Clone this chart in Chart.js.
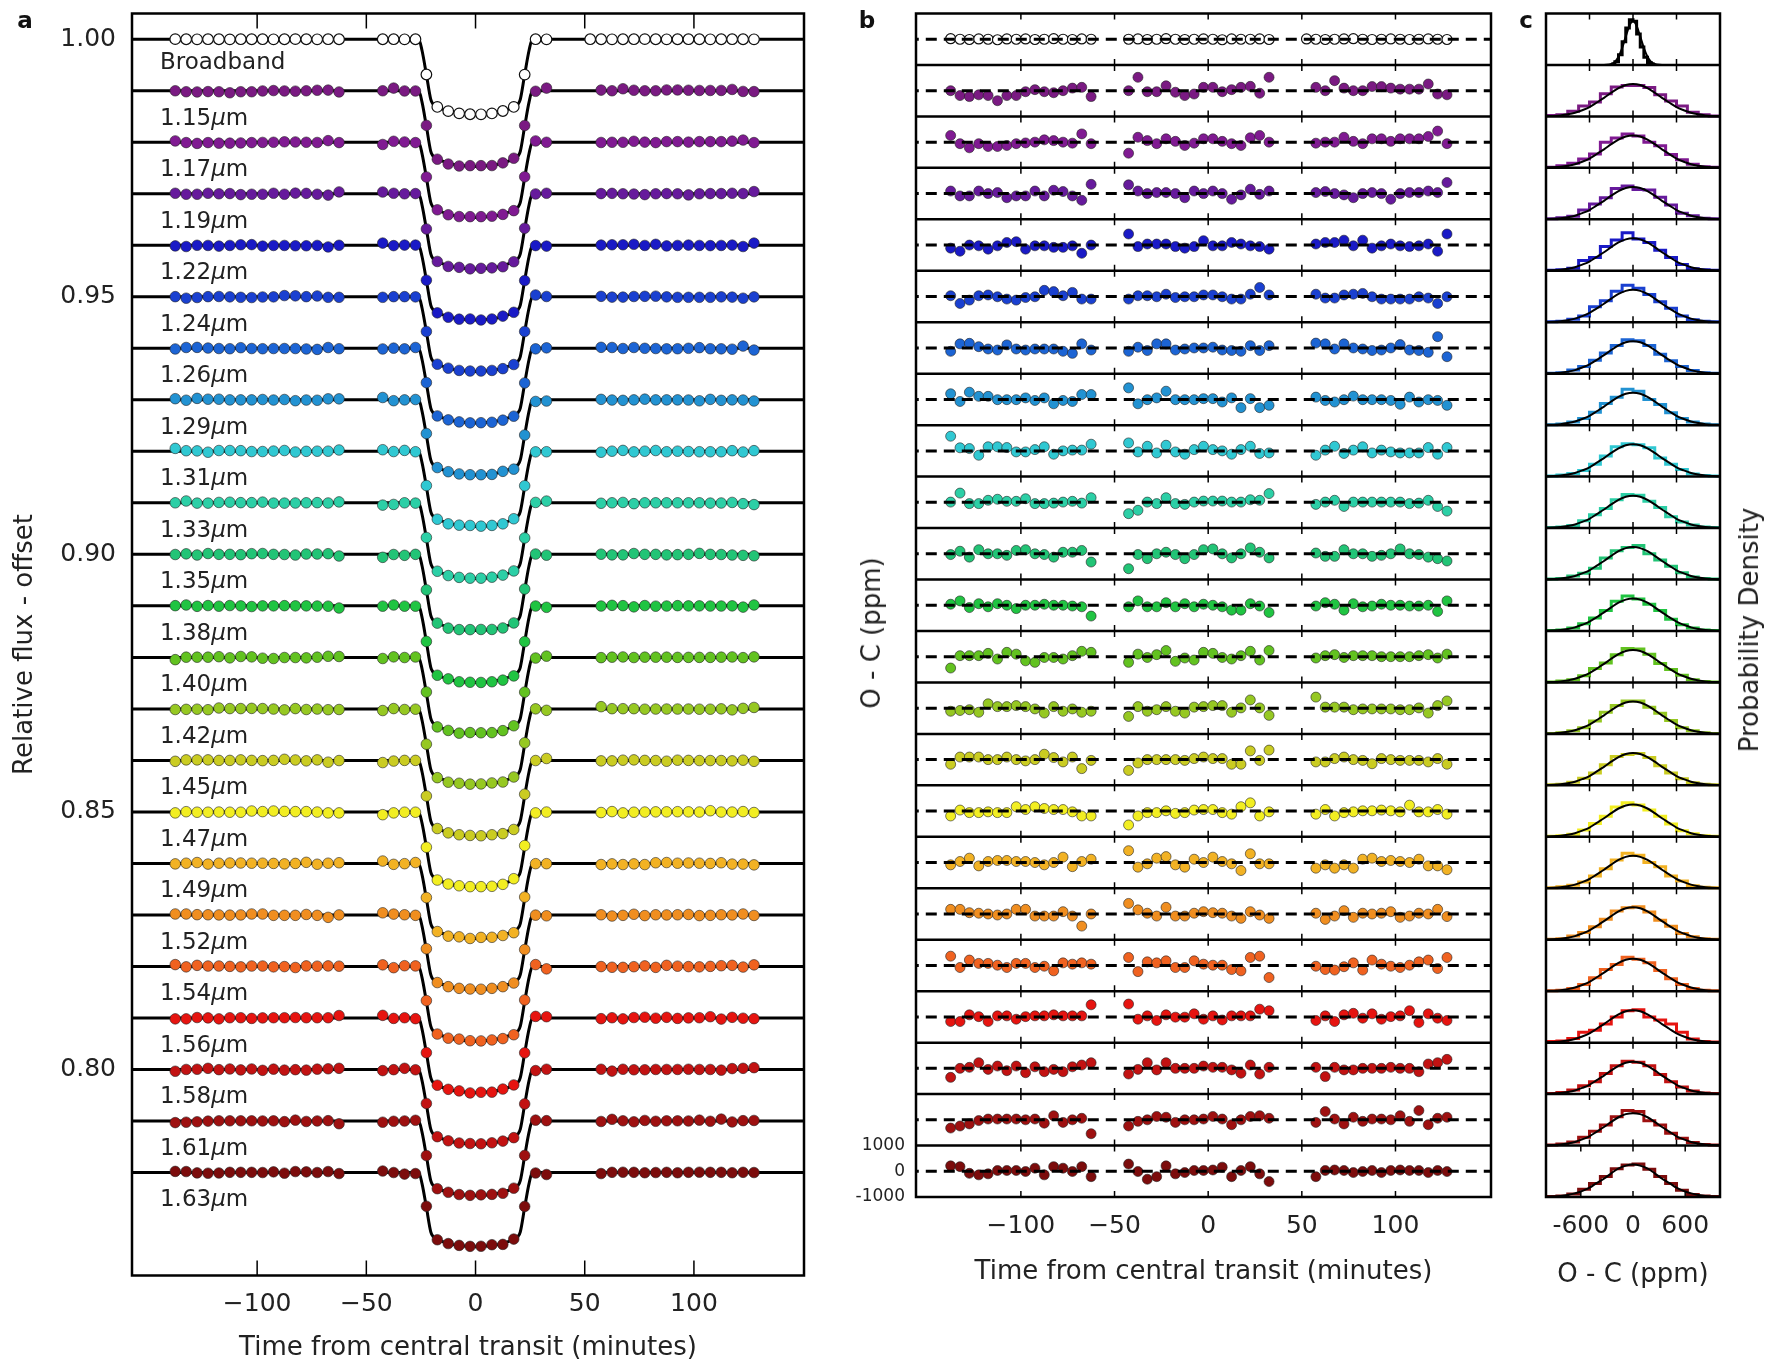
<!DOCTYPE html>
<html>
<head>
<meta charset="utf-8">
<title>Spectroscopic transit light curves</title>
<script src="https://cdn.jsdelivr.net/npm/chart.js@4.4.1/dist/chart.umd.min.js"></script>
<style>
  html, body { margin: 0; padding: 0; background: #fff; }
  body { position: relative; width: 1766px; height: 1365px; overflow: hidden; font-family: "DejaVu Sans", sans-serif; color: #222; }
  canvas { position: absolute; top: 0; }
  .txt { position: absolute; white-space: nowrap; transform: translate(-50%, -50%); }
  .panel { font-weight: bold; font-size: 23px; color: #111; }
  .vert { transform: translate(-50%, -50%) rotate(-90deg); font-size: 26px; }
</style>
</head>
<body>
<canvas id="chartA" width="820" height="1365" style="left:0"></canvas>
<canvas id="chartB" width="680" height="1300" style="left:830px"></canvas>
<canvas id="chartC" width="236" height="1300" style="left:1530px"></canvas>
<div class="txt panel" style="left:25px;top:20px">a</div>
<div class="txt panel" style="left:867px;top:20px">b</div>
<div class="txt panel" style="left:1526px;top:20px">c</div>
<div class="txt vert" style="left:871px;top:633px">O - C (ppm)</div>
<div class="txt vert" style="left:1749px;top:630px">Probability Density</div>
<script>
Chart.defaults.font.family = '"DejaVu Sans", sans-serif';
Chart.defaults.color = '#222';
Chart.defaults.animation = false;

// AXIS TICKS
const timeTicks = [-100, -50, 0, 50, 100];
const fluxTicks = [0.80, 0.85, 0.90, 0.95, 1.00];
const ocLabelTicks = [-1000, 0, 1000];
const histTicks = [-600, 0, 600];

// ROWS (top to bottom)
const rowNames = ['Broadband', '1.15', '1.17', '1.19', '1.22', '1.24', '1.26', '1.29', '1.31', '1.33', '1.35',
  '1.38', '1.40', '1.42', '1.45', '1.47', '1.49', '1.52', '1.54', '1.56', '1.58', '1.61', '1.63'];
const rowOffsets = [1.00, 0.99, 0.98, 0.97, 0.96, 0.95, 0.94, 0.93, 0.92, 0.91, 0.90,
  0.89, 0.88, 0.87, 0.86, 0.85, 0.84, 0.83, 0.82, 0.81, 0.80, 0.79, 0.78];
const rowColors = ['#ffffff', '#7a1a82', '#801a92', '#661a9c', '#1a1ac6', '#1a40d0', '#1c64d4', '#2292d2',
  '#30c8d2', '#2ccfa6', '#22c476', '#20c442', '#62c220', '#96c822', '#cacc22', '#f2ee22', '#f2b224',
  '#f08e20', '#f06220', '#e61410', '#c21212', '#9e1010', '#7c0c0c'];
const depths = [0.0146, 0.0147, 0.0146, 0.0146, 0.0145, 0.0145, 0.0145, 0.0146, 0.0146, 0.0147, 0.0148,
  0.0149, 0.0148, 0.0147, 0.0147, 0.0146, 0.0146, 0.0145, 0.0145, 0.0145, 0.0145, 0.0145, 0.0144];

// EXPOSURE TIMES (minutes from central transit)
const timesBroadband = [-137.5, -132.5, -127.5, -122.5, -117.5, -112.5, -107.5, -102.5, -97.5, -92.5, -87.5, -82.5, -77.5, -72.5, -67.5, -62.5,
  -42.5, -37.5, -32.5, -27.5, -22.5, -17.5, -12.5, -7.5, -2.5, 2.5, 7.5, 12.5, 17.5, 22.5, 27.5, 32.5,
  52.5, 57.5, 62.5, 67.5, 72.5, 77.5, 82.5, 87.5, 92.5, 97.5, 102.5, 107.5, 112.5, 117.5, 122.5, 127.5];
const times = [-137.5, -132.5, -127.5, -122.5, -117.5, -112.5, -107.5, -102.5, -97.5, -92.5, -87.5, -82.5, -77.5, -72.5, -67.5, -62.5,
  -42.5, -37.5, -32.5, -27.5, -22.5, -17.5, -12.5, -7.5, -2.5, 2.5, 7.5, 12.5, 17.5, 22.5, 27.5, 32.5,
  57.5, 62.5, 67.5, 72.5, 77.5, 82.5, 87.5, 92.5, 97.5, 102.5, 107.5, 112.5, 117.5, 122.5, 127.5];

// TRANSIT MODEL SHAPE (fraction of full depth)
const modelT = [-200, -26, -24.5, -22.5, -20.5, -19.5, -17.5, -12.5, -7.5, -2.5, 0, 2.5, 7.5, 12.5, 17.5, 19.5, 20.5, 22.5, 24.5, 26, 200];
const modelShape = [0, 0, 0.15, 0.47, 0.8, 0.86, 0.9, 0.955, 0.985, 0.998, 1, 0.998, 0.985, 0.955, 0.9, 0.86, 0.8, 0.47, 0.15, 0, 0];

// RESIDUALS O - C (ppm)
const rBB = [20, 0, -10, 10, 0, -20, 10, 0, 10, -10, 0, 20, 0, -10, 10, 0, 0, 10, -10, 0, 20, 0, -10, 0, 10, 0, -20, 10, 0, 0, 10, -10, 10, 0, -10, 0, 10, 20, 0, -10, 0, 10, 0, -10, 0, 10, 0, -10];
const r115 = [0, -190, -230, -160, -190, -390, -190, -190, -40, 40, -40, -80, 0, 100, 130, -230, 0, 520, -40, -40, 190, -60, -190, -130, 130, 130, -40, 40, 130, 170, -100, 520, 130, 0, 390, 100, 0, 0, 160, 160, 100, 60, 60, 60, 260, -130, -160];
const r117 = [260, -60, -220, -60, -170, -170, -130, -60, -30, 0, 90, 60, 0, -40, 320, -60, -430, 190, 60, -60, 130, 30, -130, -40, 130, 130, 30, -60, -130, 170, 260, 0, -40, 0, 0, 190, 30, -60, 130, 130, 30, 130, 130, 130, 220, 430, -60];
const r119 = [100, -90, -90, 100, 0, 40, -160, -90, -90, 100, -90, 130, 80, -90, -260, 360, 340, 100, 0, 40, 40, 0, -160, 100, 0, 100, 0, -220, -50, 170, -30, 100, 40, 80, 0, -50, -160, 0, 40, 0, -220, 0, 40, 40, 100, 40, 430];
const r122 = [-120, -240, 0, -30, -160, -30, 100, 130, -160, -30, -30, -90, -90, -30, -320, 0, 430, -60, 40, 40, 40, -60, -120, -60, 170, -30, -30, 100, 40, -30, -60, -160, 40, 100, 100, 190, -30, 190, -120, -30, 40, -30, -60, -30, 40, -240, 430];
const r124 = [30, -270, -140, 30, 60, -10, -100, -140, -40, -10, 240, 190, 30, 160, -100, -100, -100, 30, 30, -10, 90, -40, -10, -10, 60, 60, -10, -100, -100, 90, 350, 60, 90, -60, -60, 60, 90, 120, -10, -100, -100, -100, -100, -10, -60, -270, -10];
const r126 = [-130, 160, 180, 50, -40, -80, 120, -40, -80, -40, -40, -40, -130, -210, 160, -80, -130, 30, -100, 160, 160, -80, -40, 0, 0, 30, -80, -100, -130, 90, -100, 90, 190, 160, -40, 160, 0, -40, -100, -80, 0, 130, -80, -100, -170, 440, -340];
const r129 = [220, -80, 280, 120, 120, -10, -10, -10, 60, -40, 60, -170, -40, -80, 190, 190, 450, -170, -10, 60, 320, -10, -10, -10, 30, 30, -100, 60, -320, 30, -320, -230, 90, -40, -100, -10, 130, -10, -10, -10, -40, -190, 90, -100, -10, -40, -230];
const r131 = [570, 120, 90, -170, 160, 160, 130, -40, -40, 50, 160, -130, 0, 30, 30, 260, 310, -40, 180, -80, 220, -40, -130, 50, 180, 50, 0, -130, 50, 180, -100, -80, -170, 30, 180, -100, 30, 160, -80, 30, -40, -80, -80, -80, 130, -130, 130];
const r133 = [10, 360, -50, -50, 80, 120, 40, 40, 140, -50, -50, -30, 10, 40, -30, 180, -440, -310, 10, -50, 180, -50, -80, 10, 50, 50, 50, 10, 10, 100, 80, 340, -80, 10, 80, -160, 10, 10, 10, 10, 10, 10, -50, -30, 80, -160, -340];
const r135 = [-30, 100, -130, 160, 0, 0, -60, 130, 160, 0, -30, -130, 60, 60, 130, -320, -580, -30, -190, 0, 60, -30, -190, -30, 160, 190, 0, -160, 0, 230, 60, -160, 30, -100, -100, 160, 0, 0, -100, -60, 0, 190, 0, -30, -130, -190, -280];
const r138 = [40, 170, -90, 60, -60, 60, 0, -130, 0, 0, 40, 0, 0, -30, -60, -420, -60, 170, -60, -60, 100, -60, 60, -60, 40, 0, -60, -190, -190, 60, -30, -280, -30, 100, 40, -190, 60, -60, -30, 40, 0, 0, -30, -30, 0, -240, 170];
const r140 = [-440, 40, 40, 40, 130, -90, 170, 100, -160, -220, -30, -30, -90, 40, 210, 170, -220, 100, -30, 80, 240, -180, -50, -130, 170, 130, -30, -90, 40, 210, -130, 240, -50, 40, 80, -30, 40, 40, 40, 0, 0, 0, 0, 40, 80, -50, 100];
const r142 = [-120, -90, -60, -160, 170, 60, 60, 100, 60, -30, -190, 60, -120, -30, -160, -120, -320, 60, -120, -60, 60, -120, -190, 40, 60, 100, 100, -160, 10, 320, 10, -280, 430, 40, 40, 40, -60, -30, -30, -30, -30, -60, -60, 10, -190, 100, 280];
const r145 = [-180, 100, 100, 100, 0, 0, 100, 0, -50, 0, 210, 80, -90, 100, -350, -30, -420, -130, 0, 0, 0, 0, -30, 40, 100, 40, 40, -180, -180, 340, -30, 370, -90, -90, 40, 100, 0, -30, -160, 40, 0, -30, -30, -30, -90, 40, -180];
const r147 = [-190, 40, -60, -60, -30, -60, -60, 170, 60, 170, 100, 60, 60, -30, -190, -190, -540, -190, -60, -60, 10, -90, -60, 40, 60, 60, -60, -120, 170, 320, -190, -30, -120, 60, -190, -60, -30, 10, 10, 40, 10, -30, 230, -30, -30, 60, -120];
const r149 = [-90, 40, 170, -130, 40, 80, 80, 40, 40, 0, -90, 0, 210, -160, 40, 130, 460, -180, -50, 170, 230, -90, -180, 130, 0, 210, 40, -50, -310, 340, -50, -50, -220, -90, -220, -90, -220, 130, 170, 40, 80, 40, 0, 130, -130, -130, -280];
const r152 = [180, 180, 50, 30, 0, -40, 0, 180, 180, -80, -80, -80, 90, -80, -470, 0, 410, 160, 30, -80, 260, -80, -80, 30, 90, 50, 30, -80, -170, 90, -40, -170, 30, -210, -80, 130, -130, 30, 0, 30, 90, -130, -80, 30, 0, 180, -100];
const r154 = [360, -80, 210, 80, 80, 10, -80, 80, 80, -80, -30, -210, 100, 50, 100, 50, 310, -240, 140, 100, 180, -80, -80, 180, 50, 10, 10, -160, -210, 310, 360, -470, -30, -160, -180, -50, 100, -180, 210, 50, -30, -80, 10, 140, 210, -120, 310];
const r156 = [-180, -180, 80, 10, -180, 40, 40, -90, 10, 40, 40, 80, 40, 40, 40, 470, 500, -90, 40, -140, 80, -10, -10, 120, -90, 40, -120, 40, 40, 40, 300, 240, -140, 40, -180, 80, 140, -50, 120, -90, 10, 40, 240, -220, 120, -50, -140];
const r158 = [-350, 0, 40, 220, -40, 90, -90, 90, -170, 60, -130, -40, -130, 60, 130, 220, -220, -40, 220, -60, 220, 0, 0, 0, 90, 40, 40, -60, -190, 130, -220, 40, 40, -320, 40, -60, -60, 0, 0, 0, 40, 0, 0, -130, 170, 220, 350];
const r161 = [-320, -240, -160, -30, 30, 30, 30, 30, 0, 30, -130, 160, -100, 0, 60, -540, -240, -60, 0, 130, 100, -100, 0, 0, 30, 130, 30, -190, 0, 130, 160, 60, -100, 320, 30, -160, 100, -60, 30, 30, 0, 160, -60, 360, -190, 60, 100];
const r163 = [210, 180, -80, -140, -100, 30, 30, 30, -10, 120, -140, 180, 120, -10, 180, -210, 280, -10, -310, -210, 210, -100, -50, 30, 30, 50, 160, -210, 30, 180, -100, -400, -210, 30, 50, 30, -50, -10, 30, -50, 30, 50, 30, 30, -50, 30, -10];
const resid = [rBB, r115, r117, r119, r122, r124, r126, r129, r131, r133, r135, r138, r140, r142, r145, r147, r149, r152, r154, r156, r158, r161, r163];

// RESIDUAL HISTOGRAMS (height as fraction of a row)
const bbHistEdges = [-300, -250, -200, -150, -100, -50, 0, 50, 100, 150, 200, 250, 300];
const bbHist = [0.02, 0.06, 0.2, 0.45, 0.72, 0.88, 0.85, 0.6, 0.35, 0.15, 0.05, 0.02];
const bbFitX = [-400, -300, -250, -200, -150, -100, -50, 0, 50, 100, 150, 200, 250, 300, 400];
const bbFitY = [0, 0.02, 0.06, 0.16, 0.33, 0.55, 0.76, 0.86, 0.76, 0.55, 0.33, 0.16, 0.06, 0.02, 0];
const histEdges = [-1200, -1050, -900, -750, -600, -450, -300, -150, 0, 150, 300, 450, 600, 750, 900, 1050, 1200];
const histEdgesLast = [-1000, -875, -750, -625, -500, -375, -250, -125, 0, 125, 250, 375, 500, 625, 750, 875, 1000];
const fitX = [-1200, -1100, -1000, -900, -800, -700, -600, -500, -400, -300, -200, -100, 0, 100, 200, 300, 400, 500, 600, 700, 800, 900, 1000, 1100, 1200];
const fitXLast = [-1000, -920, -830, -750, -670, -580, -500, -420, -330, -250, -170, -80, 0, 80, 170, 250, 330, 420, 500, 580, 670, 750, 830, 920, 1000];
const fitY = [0.005, 0.01, 0.02, 0.04, 0.07, 0.12, 0.18, 0.27, 0.36, 0.46, 0.55, 0.61, 0.63, 0.61, 0.55, 0.46, 0.36, 0.27, 0.18, 0.12, 0.07, 0.04, 0.02, 0.01, 0.005];
const h115 = [0.02, 0.03, 0.1, 0.2, 0.28, 0.44, 0.57, 0.6, 0.6, 0.56, 0.42, 0.3, 0.2, 0.08, 0.03, 0.01];
const h117 = [0.01, 0.04, 0.09, 0.17, 0.27, 0.5, 0.58, 0.66, 0.62, 0.5, 0.43, 0.26, 0.16, 0.07, 0.02, 0.01];
const h119 = [0.01, 0.03, 0.06, 0.18, 0.3, 0.42, 0.6, 0.65, 0.58, 0.57, 0.43, 0.28, 0.12, 0.07, 0.02, 0.01];
const h122 = [0.01, 0.02, 0.05, 0.2, 0.26, 0.47, 0.6, 0.74, 0.62, 0.55, 0.4, 0.26, 0.12, 0.04, 0.02, 0.01];
const h124 = [0.01, 0.02, 0.06, 0.12, 0.3, 0.42, 0.6, 0.72, 0.66, 0.54, 0.4, 0.27, 0.12, 0.05, 0.02, 0.01];
const h126 = [0.01, 0.02, 0.07, 0.14, 0.26, 0.4, 0.55, 0.66, 0.64, 0.55, 0.38, 0.25, 0.14, 0.06, 0.02, 0.01];
const h129 = [0.01, 0.02, 0.06, 0.13, 0.25, 0.42, 0.54, 0.7, 0.66, 0.5, 0.4, 0.24, 0.13, 0.06, 0.02, 0.01];
const h131 = [0.01, 0.03, 0.06, 0.12, 0.24, 0.4, 0.58, 0.64, 0.62, 0.56, 0.36, 0.24, 0.14, 0.05, 0.02, 0.01];
const h133 = [0.01, 0.02, 0.05, 0.14, 0.26, 0.38, 0.55, 0.65, 0.64, 0.52, 0.4, 0.22, 0.12, 0.06, 0.02, 0.01];
const h135 = [0.01, 0.02, 0.07, 0.12, 0.22, 0.42, 0.56, 0.62, 0.66, 0.5, 0.38, 0.26, 0.13, 0.05, 0.02, 0.01];
const h138 = [0.01, 0.02, 0.06, 0.14, 0.25, 0.4, 0.58, 0.68, 0.62, 0.52, 0.4, 0.23, 0.12, 0.06, 0.02, 0.01];
const h140 = [0.01, 0.03, 0.05, 0.13, 0.27, 0.38, 0.54, 0.66, 0.65, 0.55, 0.37, 0.25, 0.14, 0.05, 0.02, 0.01];
const h142 = [0.01, 0.02, 0.06, 0.12, 0.25, 0.42, 0.55, 0.64, 0.64, 0.52, 0.4, 0.26, 0.12, 0.06, 0.02, 0.01];
const h145 = [0.01, 0.02, 0.06, 0.14, 0.24, 0.4, 0.56, 0.6, 0.62, 0.54, 0.38, 0.24, 0.13, 0.05, 0.02, 0.01];
const h147 = [0.01, 0.02, 0.05, 0.13, 0.26, 0.4, 0.58, 0.66, 0.62, 0.52, 0.4, 0.25, 0.12, 0.06, 0.02, 0.01];
const h149 = [0.01, 0.03, 0.06, 0.12, 0.24, 0.38, 0.55, 0.68, 0.64, 0.5, 0.42, 0.24, 0.14, 0.05, 0.02, 0.01];
const h152 = [0.01, 0.02, 0.07, 0.14, 0.25, 0.4, 0.56, 0.62, 0.64, 0.54, 0.38, 0.26, 0.12, 0.06, 0.02, 0.01];
const h154 = [0.01, 0.02, 0.05, 0.13, 0.26, 0.42, 0.52, 0.66, 0.62, 0.55, 0.4, 0.24, 0.13, 0.05, 0.02, 0.01];
const h156 = [0.02, 0.03, 0.08, 0.2, 0.24, 0.36, 0.5, 0.62, 0.64, 0.5, 0.44, 0.36, 0.2, 0.07, 0.02, 0.01];
const h158 = [0.01, 0.03, 0.08, 0.16, 0.24, 0.4, 0.55, 0.64, 0.62, 0.55, 0.38, 0.24, 0.14, 0.06, 0.02, 0.01];
const h161 = [0.01, 0.03, 0.07, 0.16, 0.28, 0.4, 0.56, 0.68, 0.66, 0.48, 0.4, 0.24, 0.14, 0.06, 0.02, 0.01];
const h163 = [0.01, 0.02, 0.06, 0.15, 0.26, 0.4, 0.55, 0.62, 0.64, 0.54, 0.4, 0.26, 0.13, 0.05, 0.02, 0.01];
const hists = [bbHist, h115, h117, h119, h122, h124, h126, h129, h131, h133, h135, h138, h140, h142, h145, h147, h149, h152, h154, h156, h158, h161, h163];

const nRows = rowNames.length;
const rowPpm = 2000; // height of one residual row

function shapeAt(t) {
  const k = modelT.indexOf(t);
  return k === -1 ? 0 : modelShape[k];
}
function minusSign(v) {
  return v < 0 ? '\u2212' + Math.abs(v) : String(v);
}
// keep the plot areas where they are: no extra room for edge tick labels
function noLabelPadding(s) {
  s.paddingTop = 0; s.paddingBottom = 0; s.paddingLeft = 0; s.paddingRight = 0;
}

// PANEL A: LIGHT CURVES
const datasetsA = [];
rowNames.forEach((name, i) => {
  const tt = i === 0 ? timesBroadband : times;
  datasetsA.push({
    type: 'line',
    data: modelT.map((t, k) => ({ x: t, y: rowOffsets[i] - depths[i] * modelShape[k] })),
    borderColor: '#000', borderWidth: 3, pointRadius: 0, cubicInterpolationMode: 'monotone', order: 2
  });
  datasetsA.push({
    type: 'scatter',
    data: tt.map((t, k) => ({ x: t, y: rowOffsets[i] - depths[i] * shapeAt(t) + resid[i][k] * 1e-6 })),
    pointRadius: 5.3,
    pointBackgroundColor: rowColors[i],
    pointBorderColor: i === 0 ? '#111' : 'rgba(35,35,35,0.75)',
    pointBorderWidth: i === 0 ? 1.2 : 0.8,
    order: 1
  });
});

const frameA = {
  id: 'frameA',
  afterDatasetsDraw(chart) {
    const { ctx, scales: { x, y } } = chart;
    ctx.save();
    ctx.fillStyle = '#222';
    ctx.textBaseline = 'alphabetic';
    rowNames.forEach((name, i) => {
      let px = x.getPixelForValue(-144.5);
      if (i === 0) {
        ctx.font = '23px "DejaVu Sans"';
        ctx.fillText(name, px, y.getPixelForValue(rowOffsets[i] - 0.0058));
        return;
      }
      const py = y.getPixelForValue(rowOffsets[i] - 0.0066);
      ctx.font = '23px "DejaVu Sans"';
      ctx.fillText(name, px, py);
      px += ctx.measureText(name).width;
      ctx.font = 'italic 23px "DejaVu Sans"';
      ctx.fillText('\u03bc', px, py);
      px += ctx.measureText('\u03bc').width;
      ctx.font = '23px "DejaVu Sans"';
      ctx.fillText('m', px, py);
    });
    ctx.restore();
  },
  afterDraw(chart) {
    const { ctx, chartArea: a, scales: { x, y } } = chart;
    ctx.save();
    ctx.strokeStyle = '#000';
    ctx.lineWidth = 1.5;
    ctx.beginPath();
    timeTicks.forEach(v => {
      const px = x.getPixelForValue(v);
      ctx.moveTo(px, a.top); ctx.lineTo(px, a.top + 15);
      ctx.moveTo(px, a.bottom); ctx.lineTo(px, a.bottom - 15);
    });
    fluxTicks.forEach(v => {
      const py = y.getPixelForValue(v);
      ctx.moveTo(a.left, py); ctx.lineTo(a.left + 10, py);
      ctx.moveTo(a.right, py); ctx.lineTo(a.right - 10, py);
    });
    ctx.stroke();
    ctx.lineWidth = 2.5;
    ctx.strokeRect(a.left, a.top, a.right - a.left, a.bottom - a.top);
    ctx.restore();
  }
};

new Chart(document.getElementById('chartA'), {
  type: 'scatter',
  data: { datasets: datasetsA },
  options: {
    responsive: false, devicePixelRatio: 1, animation: false,
    layout: { padding: { top: 13.5, right: 16, bottom: 0, left: 0 } },
    plugins: { legend: { display: false }, tooltip: { enabled: false } },
    scales: {
      x: {
        type: 'linear', min: -157.3, max: 150.4,
        afterBuildTicks: s => { s.ticks = timeTicks.map(v => ({ value: v })); },
        afterFit: s => { s.height = 89.5; noLabelPadding(s); },
        grid: { display: false, drawTicks: false }, border: { display: false },
        ticks: { font: { size: 25 }, padding: 13.5, maxRotation: 0, callback: v => minusSign(v) },
        title: { display: true, text: 'Time from central transit (minutes)', font: { size: 26 }, padding: { top: 0, bottom: 1.5 } }
      },
      y: {
        type: 'linear', min: 0.76, max: 1.005,
        afterBuildTicks: s => { s.ticks = fluxTicks.map(v => ({ value: v })); },
        afterFit: s => { s.width = 132; noLabelPadding(s); },
        grid: { display: false, drawTicks: false }, border: { display: false },
        ticks: { font: { size: 25 }, padding: 16, callback: v => v.toFixed(2) },
        title: { display: true, text: 'Relative flux - offset', font: { size: 26 }, padding: { top: 9.5, bottom: 0 } }
      }
    }
  },
  plugins: [frameA]
});

// PANEL B: RESIDUALS
const datasetsB = [];
rowNames.forEach((name, i) => {
  const tt = i === 0 ? timesBroadband : times;
  const zero = (nRows - 1 - i) * rowPpm;
  datasetsB.push({
    type: 'line',
    data: [{ x: -170, y: zero }, { x: 170, y: zero }],
    borderColor: '#000', borderWidth: 3, borderDash: [11, 7], pointRadius: 0, order: 0
  });
  datasetsB.push({
    type: 'scatter',
    data: tt.map((t, k) => ({ x: t, y: zero + resid[i][k] })),
    pointRadius: 5,
    pointBackgroundColor: rowColors[i],
    pointBorderColor: i === 0 ? '#111' : 'rgba(35,35,35,0.75)',
    pointBorderWidth: i === 0 ? 1.2 : 0.8,
    order: 1
  });
});

const frameB = {
  id: 'frameB',
  afterDraw(chart) {
    const { ctx, chartArea: a, scales: { x, y } } = chart;
    ctx.save();
    ctx.strokeStyle = '#000';
    ctx.lineWidth = 1.5;
    ctx.beginPath();
    for (let b = 0; b <= nRows; b++) {
      const py = y.getPixelForValue((nRows - b) * rowPpm - rowPpm / 2);
      timeTicks.forEach(v => {
        const px = x.getPixelForValue(v);
        if (b > 0) { ctx.moveTo(px, py); ctx.lineTo(px, py - 6); }
        if (b < nRows) { ctx.moveTo(px, py); ctx.lineTo(px, py + 6); }
      });
    }
    ctx.stroke();
    ctx.lineWidth = 2.5;
    ctx.beginPath();
    for (let b = 1; b < nRows; b++) {
      const py = y.getPixelForValue((nRows - b) * rowPpm - rowPpm / 2);
      ctx.moveTo(a.left, py); ctx.lineTo(a.right, py);
    }
    ctx.stroke();
    ctx.strokeRect(a.left, a.top, a.right - a.left, a.bottom - a.top);
    ctx.restore();
  }
};

new Chart(document.getElementById('chartB'), {
  type: 'scatter',
  data: { datasets: datasetsB },
  options: {
    responsive: false, devicePixelRatio: 1, animation: false,
    layout: { padding: { top: 13.5, right: 19, bottom: 0, left: 0 } },
    plugins: { legend: { display: false }, tooltip: { enabled: false } },
    scales: {
      x: {
        type: 'linear', min: -156, max: 151,
        afterBuildTicks: s => { s.ticks = timeTicks.map(v => ({ value: v })); },
        afterFit: s => { s.height = 103; noLabelPadding(s); },
        grid: { display: false, drawTicks: false }, border: { display: false },
        ticks: { font: { size: 25 }, padding: 14, maxRotation: 0, callback: v => minusSign(v) },
        title: { display: true, text: 'Time from central transit (minutes)', font: { size: 26 }, padding: { top: 0, bottom: 12 } }
      },
      y: {
        type: 'linear', min: -rowPpm / 2, max: nRows * rowPpm - rowPpm / 2,
        afterBuildTicks: s => { s.ticks = ocLabelTicks.map(v => ({ value: v })); },
        afterFit: s => { s.width = 86; noLabelPadding(s); },
        grid: { display: false, drawTicks: false }, border: { display: false },
        ticks: { font: { size: 17 }, padding: 11, callback: v => String(v) }
      }
    }
  },
  plugins: [frameB]
});

// PANEL C: RESIDUAL DISTRIBUTIONS
const datasetsC = [];
rowNames.forEach((name, i) => {
  const base = nRows - 1 - i;
  const last = i === nRows - 1;
  const axis = last ? 'x' : 'x2';
  const edges = i === 0 ? bbHistEdges : (last ? histEdgesLast : histEdges);
  const h = hists[i];
  const fx = i === 0 ? bbFitX : (last ? fitXLast : fitX);
  const fy = i === 0 ? bbFitY : fitY;
  datasetsC.push({
    type: 'line', xAxisID: axis,
    data: fx.map((v, k) => ({ x: v, y: base + fy[k] })),
    borderColor: '#000', borderWidth: 2, pointRadius: 0, cubicInterpolationMode: 'monotone', order: 0
  });
  datasetsC.push({
    type: 'line', xAxisID: axis,
    data: edges.map((e, k) => ({ x: e, y: base + h[Math.min(k, h.length - 1)] })),
    borderColor: i === 0 ? '#000' : rowColors[i], borderWidth: 3, pointRadius: 0, stepped: 'before', order: 1
  });
});

const frameC = {
  id: 'frameC',
  afterDraw(chart) {
    const { ctx, chartArea: a, scales: { x, x2, y } } = chart;
    ctx.save();
    ctx.strokeStyle = '#000';
    ctx.lineWidth = 1.5;
    ctx.beginPath();
    for (let i = 0; i < nRows; i++) {
      const s = i === nRows - 1 ? x : x2;
      const top = y.getPixelForValue(nRows - i);
      const bottom = y.getPixelForValue(nRows - 1 - i);
      histTicks.forEach(v => {
        const px = s.getPixelForValue(v);
        ctx.moveTo(px, top); ctx.lineTo(px, top + 6);
        ctx.moveTo(px, bottom); ctx.lineTo(px, bottom - 6);
      });
    }
    ctx.stroke();
    ctx.lineWidth = 2.5;
    ctx.beginPath();
    for (let b = 1; b < nRows; b++) {
      const py = y.getPixelForValue(b);
      ctx.moveTo(a.left, py); ctx.lineTo(a.right, py);
    }
    ctx.stroke();
    ctx.strokeRect(a.left, a.top, a.right - a.left, a.bottom - a.top);
    ctx.restore();
  }
};

new Chart(document.getElementById('chartC'), {
  type: 'scatter',
  data: { datasets: datasetsC },
  options: {
    responsive: false, devicePixelRatio: 1, animation: false,
    layout: { padding: { top: 13.5, right: 46, bottom: 0, left: 16 } },
    plugins: { legend: { display: false }, tooltip: { enabled: false } },
    scales: {
      x: {
        type: 'linear', min: -1000, max: 1000,
        afterBuildTicks: s => { s.ticks = histTicks.map(v => ({ value: v })); },
        afterFit: s => { s.height = 103; noLabelPadding(s); },
        grid: { display: false, drawTicks: false }, border: { display: false },
        ticks: { font: { size: 25 }, padding: 14, maxRotation: 0, autoSkip: false, callback: v => String(v) },
        title: { display: true, text: 'O - C (ppm)', font: { size: 26 }, padding: { top: 0, bottom: 9.5 } }
      },
      x2: { type: 'linear', min: -1200, max: 1200, display: false },
      y: { type: 'linear', min: 0, max: nRows, display: false }
    }
  },
  plugins: [frameC]
});
</script>
</body>
</html>
